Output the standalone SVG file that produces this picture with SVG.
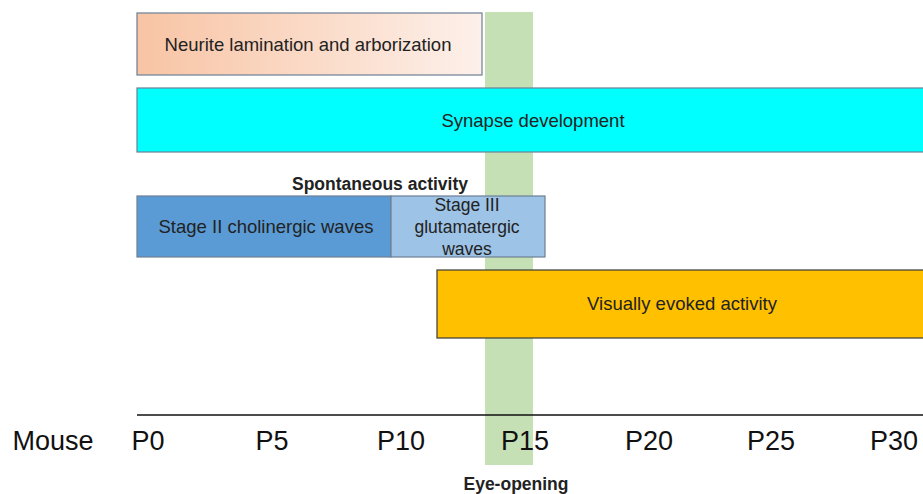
<svg xmlns="http://www.w3.org/2000/svg" width="923" height="494" viewBox="0 0 923 494">
<defs>
<linearGradient id="peach" x1="0" y1="0" x2="1" y2="0">
<stop offset="0" stop-color="#f8c4a4"/>
<stop offset="1" stop-color="#fdf0ea"/>
</linearGradient>
</defs>
<style>
.t{font-family:"Liberation Sans",Arial,sans-serif;fill:#222;text-anchor:middle}
.box{stroke:#6d7f95;stroke-width:1.2}
.ax{font-family:"Liberation Sans",Arial,sans-serif;font-size:27px;fill:#111;text-anchor:middle}
</style>
<rect x="485" y="12" width="48" height="453" fill="#c5e0b4"/>
<g id="neurite">
<rect class="box" x="137" y="13" width="345" height="62" fill="url(#peach)"/>
<text class="t" x="308" y="51" font-size="18.5">Neurite lamination and arborization</text>
</g>
<g id="synapse">
<rect class="box" x="137" y="88" width="790" height="64" fill="#00ffff"/>
<text class="t" x="533" y="127" font-size="18.5">Synapse development</text>
</g>
<text class="t" x="380" y="190" font-size="17.5" font-weight="bold" fill="#000">Spontaneous activity</text>
<g id="stage2">
<rect class="box" x="137" y="196" width="254" height="61" fill="#5b9bd5"/>
<text class="t" x="266" y="233" font-size="18.5">Stage II cholinergic waves</text>
</g>
<g id="stage3">
<rect class="box" x="391" y="196" width="154" height="61" fill="#9dc3e6"/>
<text class="t" x="467" y="211" font-size="17.5">Stage III</text>
<text class="t" x="467" y="233" font-size="17.5">glutamatergic</text>
<text class="t" x="467" y="255" font-size="17.5">waves</text>
</g>
<g id="visual">
<rect x="437" y="270" width="490" height="68" fill="#ffc000" stroke="#3a3a3a" stroke-width="1.2"/>
<text class="t" x="682" y="310" font-size="18.5">Visually evoked activity</text>
</g>
<g id="connectors">
<line x1="137" y1="415" x2="923" y2="415" stroke="#111" stroke-width="1.5"/>
</g>
<text class="ax" x="53" y="450" font-size="29.5">Mouse</text>
<text class="ax" x="148" y="450">P0</text>
<text class="ax" x="272" y="450">P5</text>
<text class="ax" x="401" y="450">P10</text>
<text class="ax" x="525" y="450">P15</text>
<text class="ax" x="649" y="450">P20</text>
<text class="ax" x="771" y="450">P25</text>
<text class="ax" x="894" y="450">P30</text>
<text class="t" x="516" y="490" font-size="17.5" font-weight="bold" fill="#4e7a2f">Eye-opening</text>
</svg>
